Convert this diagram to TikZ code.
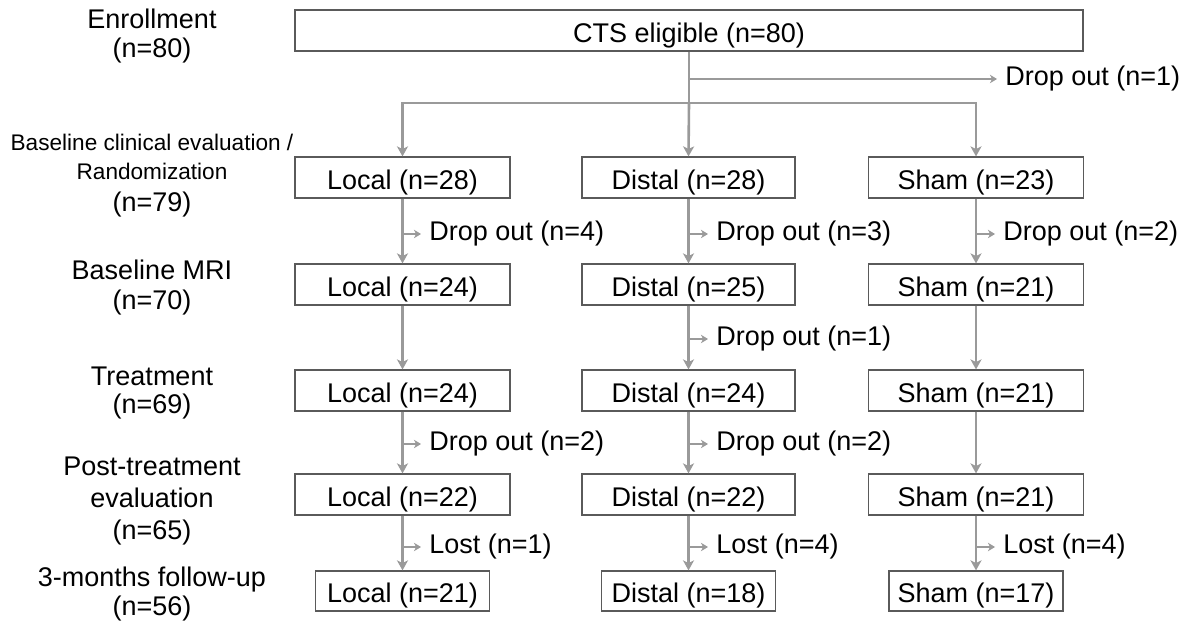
\documentclass[tikz,border=0pt]{standalone}
\usepackage{fontspec}
\setmainfont{Liberation Sans}
\usetikzlibrary{arrows.meta}
\definecolor{boxgray}{HTML}{5A5A5A}
\definecolor{flowgray}{HTML}{9A9A9A}
\newcommand{\fs}{\fontsize{13.5pt}{15pt}\selectfont}
\newcommand{\fsm}{\fontsize{11.3pt}{14.5pt}\selectfont}
\tikzset{
  stagebox/.style={draw=boxgray, line width=0.6pt, minimum width=107.5pt, minimum height=20.5pt, inner sep=0pt, text height=12pt, text depth=0pt, font=\fs, text=black},
  endbox/.style={stagebox, minimum width=87pt, minimum height=20pt},
  lbl/.style={inner sep=0pt, font=\fs, anchor=west, text=black},
  stage/.style={align=center, inner sep=0pt, text=black},
  flow/.style={draw=flowgray, line width=1.3pt},
  flowarr/.style={flow, -{Stealth[length=5pt,width=5.5pt,inset=1.3pt]}},
  sidearr/.style={draw=flowgray, line width=1.1pt, -{Stealth[length=3.5pt,width=4.2pt,inset=1pt]}, shorten >=4pt}
}
\begin{document}
\begin{tikzpicture}[x=0.5pt,y=-0.5pt]
\useasboundingbox (0,0) rectangle (1188,624);

% left stage labels
\node[stage, font=\fontsize{13.5pt}{14.5pt}\selectfont] (s0) at (152,36) {Enrollment\\(n=80)};
\node[stage, font=\fsm] (s1a) at (152,157) {Baseline clinical evaluation /\\Randomization};
\node[stage, font=\fs] (s1b) at (152,205) {(n=79)};
\node[stage, font=\fontsize{13.5pt}{15pt}\selectfont] (s2) at (152,288) {Baseline MRI\\(n=70)};
\node[stage, font=\fontsize{13.5pt}{14pt}\selectfont] (s3) at (152,393) {Treatment\\(n=69)};
\node[stage, font=\fontsize{13.5pt}{16pt}\selectfont] (s4) at (152,501) {Post-treatment\\evaluation\\(n=65)};
\node[stage, font=\fontsize{13.5pt}{14.5pt}\selectfont] (s5) at (152,594) {3-months follow-up\\(n=56)};

% boxes
\node[stagebox, minimum width=394pt] (cts) at (689,30.5) {CTS eligible (n=80)};

\node[stagebox] (L1) at (402.5,177.5) {Local (n=28)};
\node[stagebox, minimum width=106.5pt] (D1) at (688.5,177.5) {Distal (n=28)};
\node[stagebox] (S1) at (976,177.5) {Sham (n=23)};

\node[stagebox] (L2) at (402.5,284.5) {Local (n=24)};
\node[stagebox, minimum width=106.5pt] (D2) at (688.5,284.5) {Distal (n=25)};
\node[stagebox] (S2) at (976,284.5) {Sham (n=21)};

\node[stagebox] (L3) at (402.5,390.5) {Local (n=24)};
\node[stagebox, minimum width=106.5pt] (D3) at (688.5,390.5) {Distal (n=24)};
\node[stagebox] (S3) at (976,390.5) {Sham (n=21)};

\node[stagebox] (L4) at (402.5,494.5) {Local (n=22)};
\node[stagebox, minimum width=106.5pt] (D4) at (688.5,494.5) {Distal (n=22)};
\node[stagebox] (S4) at (976,494.5) {Sham (n=21)};

\node[endbox] (L5) at (402.5,591) {Local (n=21)};
\node[endbox] (D5) at (688.5,591) {Distal (n=18)};
\node[endbox] (S5) at (976,591) {Sham (n=17)};

% exclusion labels
\node[lbl] (d0) at (1005,79) {Drop out (n=1)};
\node[lbl] (dL1) at (429,234) {Drop out (n=4)};
\node[lbl] (dD1) at (716,234) {Drop out (n=3)};
\node[lbl] (dS1) at (1003,234) {Drop out (n=2)};
\node[lbl] (dD2) at (716,339) {Drop out (n=1)};
\node[lbl] (dL3) at (429,444) {Drop out (n=2)};
\node[lbl] (dD3) at (716,444) {Drop out (n=2)};
\node[lbl] (lL4) at (429,547) {Lost (n=1)};
\node[lbl] (lD4) at (716,547) {Lost (n=4)};
\node[lbl] (lS4) at (1003,547) {Lost (n=4)};

% enrollment split
\coordinate (br) at (689,103);
\draw[flow] (cts.south) -- (br);
\draw[flowarr] (br) -| (L1.north);
\draw[flowarr] (br) -| (S1.north);
\draw[flowarr] (br) -- (D1.north);
\draw[sidearr] (cts.south |- d0) -- (d0.west);

% vertical flows
\foreach \c in {L,D,S}{
  \draw[flowarr] (\c1.south) -- (\c2.north);
  \draw[flowarr] (\c2.south) -- (\c3.north);
  \draw[flowarr] (\c3.south) -- (\c4.north);
  \draw[flowarr] (\c4.south) -- (\c5.north);
}

% side arrows
\draw[sidearr] (L1.south |- dL1) -- (dL1.west);
\draw[sidearr] (D1.south |- dD1) -- (dD1.west);
\draw[sidearr] (S1.south |- dS1) -- (dS1.west);
\draw[sidearr] (D2.south |- dD2) -- (dD2.west);
\draw[sidearr] (L3.south |- dL3) -- (dL3.west);
\draw[sidearr] (D3.south |- dD3) -- (dD3.west);
\draw[sidearr] (L4.south |- lL4) -- (lL4.west);
\draw[sidearr] (D4.south |- lD4) -- (lD4.west);
\draw[sidearr] (S4.south |- lS4) -- (lS4.west);
\end{tikzpicture}
\end{document}
